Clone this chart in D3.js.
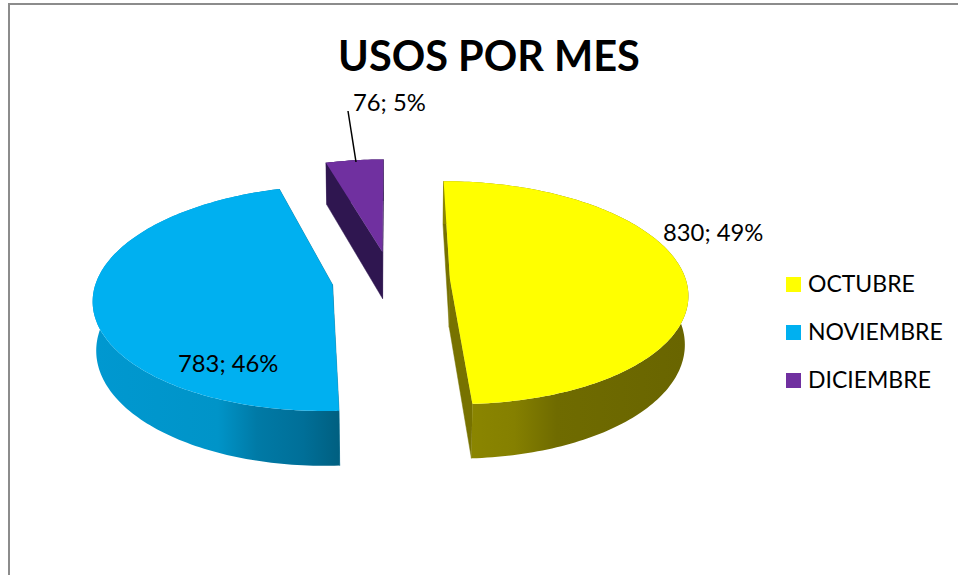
<!DOCTYPE html>
<html><head><meta charset="utf-8">
<script src="https://cdn.jsdelivr.net/npm/d3@7/dist/d3.min.js"></script>
<style>html,body{margin:0;padding:0;background:#fff}svg{display:block}text{font-family:Lato,"Open Sans",sans-serif;fill:#000}</style>
</head><body><svg id="c" width="958" height="575"></svg>
<script>
const categories = ["OCTUBRE","NOVIEMBRE","DICIEMBRE"];
const values = [830,783,76];
const percentLabels = ["49%","46%","5%"];
const topColors = ["#ffff00","#00b0f0","#7030a0"];
const wallColors = ["#777200","#006a90","#2f1650"];
const rimStops = [
  [[0,"#8a8500"],[0.2,"#858000"],[0.4,"#6f6b00"],[1,"#696500"]],
  [[0,"#0098d0"],[0.5,"#0094c8"],[0.66,"#007aa6"],[0.85,"#006f98"],[1,"#005f80"]],
  [[0,"#2f1650"],[1,"#2f1650"]]
];

const svg=d3.select("#c");
const defs=svg.append("defs");

// ground-plane -> screen scales, with perspective around the view centre
const vx=391, vy=280, k=0.12, lowerShrink=0.988;
const explode=[0.25,0.25,0.265];
const sx=d3.scaleLinear().domain([0,1]).range([0,236]);
const sy=d3.scaleLinear().domain([0,1]).range([0,110]);
const depth=48;
function proj(gx,gy,lower){
  const s=1/(1+k*gy);
  return [vx+sx(gx)*s*(lower?lowerShrink:1), vy-sy(gy)*s+(lower?depth*s:0)];
}
const pie=d3.pie().sort(null).startAngle(0).endAngle(2*Math.PI)(values);
const line=d3.line();

svg.append("path").attr("d",line([[9,575],[9,4],[958,4]])).attr("fill","none").attr("stroke","#8c8c8c").attr("stroke-width",2);

pie.forEach((d,i)=>{
  const mid=(d.startAngle+d.endAngle)/2;
  const ox=explode[i]*Math.sin(mid), oy=explode[i]*Math.cos(mid);
  const pt=(a,lower)=>proj(ox+Math.sin(a),oy+Math.cos(a),lower);
  const apex=lower=>proj(ox,oy,lower);
  const n=Math.ceil((d.endAngle-d.startAngle)/0.02);
  const angles=d3.range(n+1).map(j=>d.startAngle+(d.endAngle-d.startAngle)*j/n);
  const top=angles.map(a=>pt(a,false)), bot=angles.map(a=>pt(a,true));
  const xe=d3.extent(top.concat(bot),p=>p[0]);
  const g=svg.append("g");
  const front=angles.filter(a=>Math.cos(a)<0.05).map(a=>pt(a,true)[0]);
  const fe=front.length?d3.extent(front):xe;
  const grad=defs.append("linearGradient").attr("id","rim"+i).attr("gradientUnits","userSpaceOnUse")
    .attr("x1",fe[0]).attr("x2",fe[1]).attr("y1",0).attr("y2",0);
  rimStops[i].forEach(s=>grad.append("stop").attr("offset",s[0]).attr("stop-color",s[1]));
  [d.startAngle,d.endAngle].forEach(a=>{
    g.append("path").attr("d",line([apex(false),pt(a,false),pt(a,true),apex(true)])+"Z").attr("fill",wallColors[i]).attr("stroke",wallColors[i]).attr("stroke-width",0.5);
  });
  g.append("path").attr("d",line(top.concat(bot.slice().reverse()))+"Z").attr("fill","url(#rim"+i+")");
  g.append("path").attr("d",line([apex(false)].concat(top))+"Z").attr("fill",topColors[i]);
});

svg.append("text").attr("x",489).attr("y",71).attr("text-anchor","middle").attr("font-size",41.5).attr("font-weight",700).text("USOS POR MES");

const labelPos=[[663,241],[178,372],[353,111]];
pie.forEach((d,i)=>{
  svg.append("text").attr("x",labelPos[i][0]).attr("y",labelPos[i][1]).attr("font-size",23.8).text(values[i]+"; "+percentLabels[i]);
});
svg.append("path").attr("d",line([[348,111],[356,162]])).attr("stroke","#000").attr("stroke-width",1.5).attr("fill","none");

const ly=d3.scalePoint().domain(categories).range([277,373]);
categories.forEach((c,i)=>{
  svg.append("rect").attr("x",786).attr("y",ly(c)).attr("width",15).attr("height",15).attr("fill",topColors[i]);
  svg.append("text").attr("x",808).attr("y",ly(c)+15).attr("font-size",23).text(c);
});
</script></body></html>
